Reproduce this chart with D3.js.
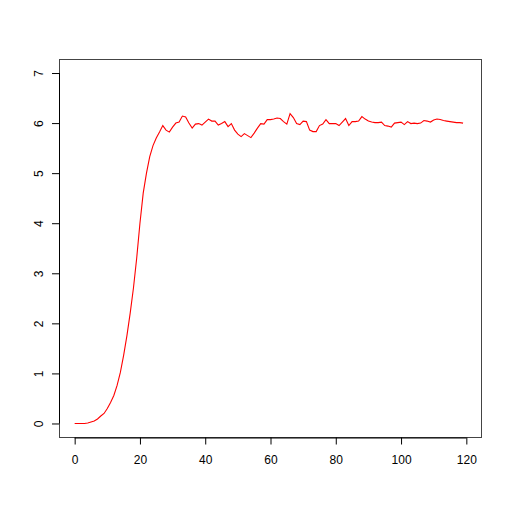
<!DOCTYPE html>
<html>
<head>
<meta charset="utf-8">
<script src="https://cdn.jsdelivr.net/npm/d3@7"></script>
<style>
html,body{margin:0;padding:0;background:#fff;}
svg{display:block;}
text{font-family:"Liberation Sans",Arial,Helvetica,sans-serif;font-size:12px;fill:#000;}
</style>
</head>
<body>
<svg id="chart" width="512" height="512"></svg>
<script>
const timeSteps = d3.range(0, 120);
const values = [
  0, 0, 0, 0, 0.01, 0.03, 0.05, 0.09, 0.15, 0.2,
  0.3, 0.42, 0.56, 0.76, 1.02, 1.36, 1.75, 2.2, 2.7, 3.3,
  4.0, 4.6, 5.0, 5.33, 5.55, 5.7, 5.82, 5.95, 5.86, 5.82,
  5.92, 6.0, 6.02, 6.14, 6.12, 6.0, 5.9, 5.98, 5.99, 5.96,
  6.02, 6.08, 6.04, 6.04, 5.96, 5.99, 6.03, 5.93, 5.99, 5.86,
  5.78, 5.73, 5.79, 5.75, 5.71, 5.8, 5.9, 5.99, 5.98, 6.07,
  6.07, 6.08, 6.1, 6.09, 6.03, 5.98, 6.19, 6.11, 5.99, 5.97,
  6.04, 6.03, 5.86, 5.83, 5.83, 5.95, 5.98, 6.07, 5.99, 5.99,
  5.99, 5.95, 6.02, 6.09, 5.95, 6.03, 6.03, 6.04, 6.13, 6.08,
  6.04, 6.02, 6.01, 6.01, 6.02, 5.95, 5.94, 5.92, 6.0, 6.01,
  6.02, 5.97, 6.03, 5.99, 6.0, 5.99, 6.0, 6.05, 6.04, 6.02,
  6.06, 6.08, 6.07, 6.05, 6.04, 6.03, 6.02, 6.01, 6.01, 6.0
];
const xTicks = [0, 20, 40, 60, 80, 100, 120];
const yTicks = [0, 1, 2, 3, 4, 5, 6, 7];
const xLimits = [0, 120];
const yLimits = [0, 7];
const lineColor = "red";

const svg = d3.select("#chart");
const pLeft = 59, pRight = 482, pTop = 59, pBottom = 437.5;
const padX = (xLimits[1] - xLimits[0]) * 0.04;
const padY = (yLimits[1] - yLimits[0]) * 0.04;
const x = d3.scaleLinear().domain([xLimits[0] - padX, xLimits[1] + padX]).range([pLeft, pRight]);
const y = d3.scaleLinear().domain([yLimits[0] - padY, yLimits[1] + padY]).range([pBottom, pTop]);

// plot box
svg.append("rect")
  .attr("x", pLeft + 0.5).attr("y", pTop + 0.5)
  .attr("width", pRight - pLeft - 1).attr("height", pBottom - pTop - 0.5)
  .attr("fill", "none").attr("stroke", "#444").attr("stroke-width", 1);

// x axis
const xAxis = d3.axisBottom(x).tickValues(xTicks).tickSize(7).tickPadding(11).tickSizeOuter(0);
const gx = svg.append("g").attr("transform", `translate(0,${pBottom})`).call(xAxis);
gx.select(".domain").attr("d", `M${x(xTicks[0])},0.5H${x(xTicks[xTicks.length-1])}`);
gx.selectAll("text").style("font-family", '"Liberation Sans",Arial,sans-serif').style("font-size", "12px").attr("dy", "0.71em");

// y axis
const yAxis = d3.axisLeft(y).tickValues(yTicks).tickSize(7).tickPadding(0).tickSizeOuter(0);
const gy = svg.append("g").attr("transform", `translate(${pLeft},0)`).call(yAxis);
gy.select(".domain").attr("d", `M0.5,${y(yTicks[0])}V${y(yTicks[yTicks.length-1])}`);
gy.selectAll(".tick text")
  .attr("x", 0).attr("y", 0).attr("dy", null)
  .attr("text-anchor", "middle")
  .attr("transform", "translate(-16,0) rotate(-90)")
  .style("font-family", '"Liberation Sans",Arial,sans-serif').style("font-size", "12px");

// line
const line = d3.line().x((d, i) => x(timeSteps[i])).y(d => y(d));
svg.append("path").datum(values)
  .attr("d", line)
  .attr("fill", "none").attr("stroke", lineColor).attr("stroke-width", 1.1);
</script>
</body>
</html>
